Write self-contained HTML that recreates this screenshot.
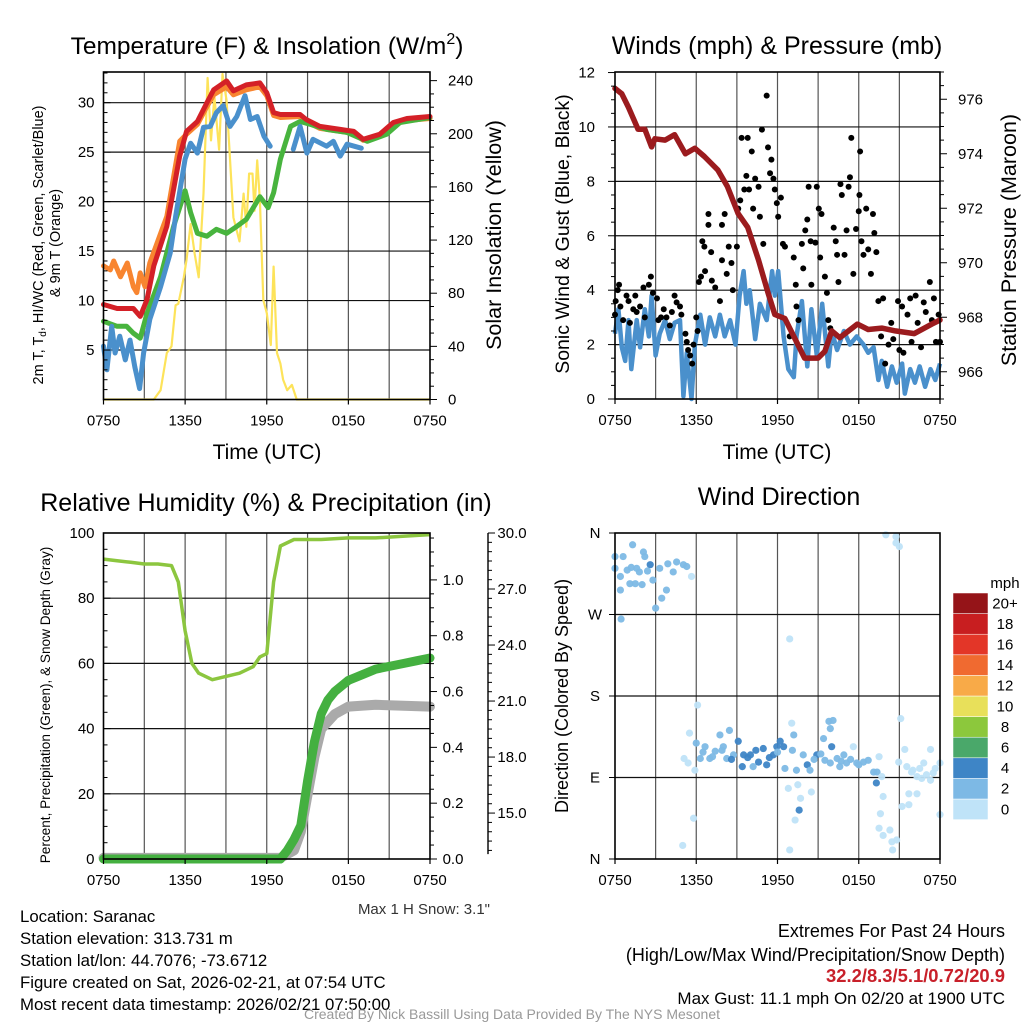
<!DOCTYPE html>
<html><head><meta charset="utf-8"><style>
html,body{margin:0;padding:0;background:#fff;}
body{width:1024px;height:1024px;overflow:hidden;font-family:"Liberation Sans",sans-serif;}
svg{display:block}
</style></head><body>
<svg id="s" width="1024" height="1024" viewBox="0 0 1024 1024" font-family="Liberation Sans, sans-serif"></svg>
<script>
// ---------- DATA ----------
const xTickLabels=["0750","1350","1950","0150","0750"];
const p1LeftTicks=[5,10,15,20,25,30];
const p1RightTicks=[0,40,80,120,160,200,240];
const p2LeftTicks=[0,2,4,6,8,10,12];
const p2RightTicks=[966,968,970,972,974,976];
const p3LeftTicks=[0,20,40,60,80,100];
const p3PrecipTicks=[0.0,0.2,0.4,0.6,0.8,1.0];
const p3SnowTicks=[15.0,18.0,21.0,24.0,27.0,30.0];
const dirLabels=["N","E","S","W","N"];
const dirTicks=[0,90,180,270,360];
const cbLabels=["0","2","4","6","8","10","12","14","16","18","20+"];
const cbColors=["#bfe3f8","#7db9e5","#3e85c6","#4aa86a","#8cc83c","#e8e05a","#f8aa48","#f06a30","#e33628","#c81e20","#951418"];

const tempT=[0,1,2.2,2.7,3.2,3.7,4.65,5.6,6.1,6.9,7.6,8.1,9.05,9.55,10.5,11.5,12,12.5,13,14.45,14.9,15.9,17.4,18.4,19.1,20.3,21.3,22.3,24];
const tempV=[9.6,9.2,9.2,8.4,10.1,13.5,17.5,24.6,27.1,28.1,30,31.3,32.2,31.2,31.8,32,31,29,28.8,28.8,28.3,27.6,27.3,27.1,26.3,26.8,28,28.4,28.6];
const t9T=[0,0.5,0.75,1.25,1.75,2.2,2.45,2.7,3.05,3.4,4.65,5.6,6.1,6.9,7.6,8.1,9.05,9.55,10.5,11.5,12,12.5,13,14.45,14.9,15.9,17.4,18.4,19.1,20.3,21.3,22.3,24];
const t9V=[13.5,13.1,14,12.4,13.8,11.4,10.8,12.8,11.4,13.8,18.5,26.1,26.8,27.8,29.6,30.8,31.6,30.8,31.3,31.6,30.7,28.7,28.5,28.6,28.1,27.4,27.1,26.9,26.2,26.6,27.8,28.2,28.4];
const dewT=[0,1,1.7,2.2,2.7,3.2,4.2,5.15,6.0,6.4,6.9,7.6,8.3,9.05,9.8,10.5,11.5,12.1,12.5,13,13.75,14.45,15.2,16.4,17.9,19.4,20.8,21.8,24];
const dewV=[7.9,7.4,7.4,6.7,6.2,8.7,12.4,17.5,21.1,18.9,16.8,16.5,17.2,16.8,17.5,18.2,20.5,19.4,20.9,24.3,27.6,28.1,27.8,27.3,27,26.1,26.8,28,28.5];
const hiT=[0,0.25,0.6,0.85,1.2,1.6,1.95,2.3,2.65,2.95,3.4,4.2,4.9,5.3,6.0,6.4,6.9,7.35,7.85,8.3,8.8,9.3,9.8,10.4,10.8,11.3,11.8,12.25,null,13.95,14.45,14.95,15.4,16.4,16.9,17.4,17.9,18.95];
const hiV=[5.4,3,7.4,4.7,6.4,4,6,3.3,1.1,4.7,8.1,11.4,14.8,18.5,24.3,25.9,24.9,27.5,27.6,29,29.7,27.6,28.6,30.7,28.3,28.6,26.6,25.6,null,25.3,27.6,24.9,26.3,25.6,26.1,24.6,25.8,25.4];
const solT=[0,3.7,4.2,4.65,5.0,5.3,5.5,5.9,6.1,6.4,6.7,7.0,7.35,7.65,7.9,8.15,8.5,8.75,9.05,9.55,10.0,10.3,10.5,10.7,10.95,11.1,11.3,11.5,11.75,12.0,12.3,12.5,12.75,13.0,13.2,13.5,13.85,14.2,24];
const solV=[0,0,7,35,40,71,72,92,105,132,110,92,155,242,195,228,188,245,225,137,119,155,130,170,170,142,180,150,75,65,41,100,35,27,15,7,11,0,0];

const presT=[0,0.5,1,1.7,2.2,2.7,2.95,3.7,4.4,5.2,5.9,6.6,7.6,8.3,9.1,9.8,10.6,11.3,11.8,12.55,13.3,14.0,15.0,15.5,16.0,16.6,17.9,18.7,19.7,20.7,22.1,23.4,24];
const presV=[976.4,976.2,975.7,974.9,974.9,974.25,974.55,974.5,974.7,974,974.2,973.9,973.4,972.8,971.8,971.3,970.1,968.9,968.1,967.95,967.2,966.5,966.5,966.75,967.5,967.25,967.75,967.55,967.6,967.5,967.4,967.75,967.9];
const windT=[0,0.25,0.5,0.75,1.0,1.2,1.6,1.85,2.2,2.5,2.7,3.0,3.3,3.7,4.05,4.4,4.8,5.05,5.3,5.65,5.9,6.3,6.65,7.0,7.4,7.75,8.1,8.5,8.9,9.2,9.5,9.7,9.95,10.35,10.7,11.2,11.6,11.8,12.05,12.45,12.8,13.2,13.4,13.8,14.2,14.5,14.9,15.3,15.75,16.0,16.4,16.9,17.35,17.85,18.35,18.7,19.1,19.45,19.7,20.1,20.45,20.8,21.2,21.4,21.8,22.15,22.5,22.9,23.3,23.65,24];
const windV=[2.4,3.3,1.9,1.4,2.9,1.1,2.9,1.9,3.3,2.3,3.8,1.6,2.4,2.9,2.2,2.8,2.9,0.1,1.7,0,2.0,3.1,2.0,3.0,2.3,3.1,2.3,2.9,2.0,3.8,4.7,3.5,4.0,2.2,3.5,2.9,4.7,3.8,4.7,2.3,1.1,0.8,2.3,3.6,1.2,3.3,1.6,3.5,1.2,2.5,1.8,2.5,2.0,2.3,2.0,1.7,1.9,0.7,1.4,0.45,1.2,0.6,1.3,0.2,1.1,0.6,1.2,0.45,1.1,0.7,1.3];
const gustT=[0,0.05,0.2,0.3,0.4,0.6,0.85,1,1.1,1.35,1.5,1.6,1.85,2.1,2.2,2.5,2.65,2.8,3.1,3.2,3.4,3.6,3.8,4.05,4.2,4.4,4.55,4.8,4.9,5.2,5.3,5.4,5.55,5.7,5.8,6.0,6.1,6.2,6.35,6.45,6.6,6.65,6.9,6.9,7.1,7.15,7.4,7.75,7.9,7.9,8.1,8.25,8.4,8.6,8.7,9.0,9.1,9.25,9.35,9.55,9.7,9.8,9.9,10.1,10.2,10.35,10.6,10.7,10.85,10.95,11.2,11.3,11.45,11.55,11.7,11.8,11.95,12.05,12.25,12.4,12.55,12.9,13.2,13.35,13.4,13.55,13.8,13.9,14.05,14.2,14.3,14.45,14.5,14.8,14.9,15.05,15.15,15.25,15.5,15.65,15.75,15.9,16.15,16.3,16.4,16.5,16.65,16.75,16.95,17.1,17.25,17.35,17.45,17.6,17.8,18,18.05,18.1,18.2,18.35,18.55,18.7,18.9,19.05,19.15,19.3,19.45,19.65,19.8,19.95,20.2,20.4,20.55,20.9,21.0,21.2,21.3,21.6,21.8,21.9,22.2,22.35,22.6,22.8,22.95,23.25,23.4,23.55,23.7,23.9,24];
const gustV=[3.1,3.6,4.0,4.2,3.4,2.9,3.8,3.6,2.8,3.3,3.8,3.2,3.4,4.1,3.0,4.2,4.5,3.9,3.7,2.9,3.0,3.3,3.0,2.7,3.2,3.8,3.55,3.4,3.1,2.4,2.1,1.8,1.6,1.3,2.0,3.0,2.5,4.3,4.5,5.8,5.6,4.7,6.8,6.4,5.4,4.35,4.1,3.6,5.1,6.4,6.8,4.6,5.6,5.0,4.0,5.6,7.0,7.3,9.6,7.7,8.2,9.6,7.7,9.1,7.0,8.1,7.8,6.7,9.9,5.7,11.15,9.25,8.3,8.8,8.1,7.7,7.2,6.7,7.4,5.7,5.6,2.3,5.2,4.2,3.4,2.9,5.7,4.8,6.2,6.6,7.8,5.8,4.2,5.75,7.8,7.0,5.2,6.8,4.5,3.9,2.9,2.6,6.3,5.8,5.3,4.3,7.9,7.5,5.3,6.2,7.8,8.15,9.6,4.6,6.25,6.9,7.5,9.1,5.8,5.3,7.0,5.5,4.6,6.8,6.1,5.4,3.6,2.3,3.7,1.3,2.0,2.8,2.2,3.6,1.8,3.4,1.7,3.1,3.7,2.1,3.8,2.8,1.9,3.55,3.2,4.3,2.9,3.7,2.1,3.1,2.1];

const rhT=[0,1,2,3,4,5,5.5,6,6.5,7,8,9,10,11,11.5,12,12.5,13,14,16,18,20,22,24];
const rhV=[92,91.5,91,90.5,90.5,90,85,70,60,57,55,56,57,59,62,63,85,96,98,98,98.5,98.5,99,99.5];
const prT=[0,13,13.5,14,14.5,15,15.5,16,16.5,17,18,19,20,21,22,23,24];
const prV=[0,0,0.03,0.07,0.12,0.28,0.42,0.52,0.57,0.6,0.64,0.66,0.68,0.69,0.7,0.71,0.72];
const snT=[0,13,14,14.5,15,15.5,16,17,18,20,24];
const snV=[12.6,12.6,13,14,16,18,19.5,20.3,20.7,20.8,20.7];

// wind direction points: time (h), direction (deg), speed (mph)
const wdT=[0,0.6,1.3,2.1,2.2,0,0.4,0.9,1.1,1.5,1.8,2.0,2.6,2.8,3.3,3.8,3.45,3.0,0.4,0.45,3.9,4.3,4.55,5.05,5.3,5.65,1.6,1.2,2.4,
6.1,5.5,5.1,5.4,5.9,6.0,6.3,6.65,7.0,7.4,7.75,8.0,8.45,8.25,8.75,9.1,9.5,9.4,10.0,10.2,10.6,10.95,11.2,11.7,11.95,12.2,12.45,12.55,13.1,13.05,13.2,13.4,13.9,14.2,14.4,14.9,15.4,15.8,16.1,15.9,16.0,15.5,15.9,16.4,16.6,16.9,17.1,17.6,17.85,18.35,18.7,19.1,19.35,19.5,19.7,19.3,6.5,7.2,7.9,8.6,9.8,10.4,11.4,12.0,14.7,15.2,16.7,17.4,18.0,
12.9,12.8,13.5,13.7,13.6,13.3,12.9,14.5,5.8,5.0,19.8,19.6,19.5,19.8,20.3,20.45,20.5,20.8,21.1,21.4,20.95,21.55,21.9,22.3,22.8,23.3,23.65,24,22.65,23.0,23.3,21.7,22.3,21.2,21.7,24,20.0,20.75,20.75,21.0,22.0,22.5,23.5];
const wdV=[334,334,347,339,334,321,312,319,304,304,317,303,325,308,321,297,288,277,297,265,326,317,328,325,323,312,321,322,318,
170,139,111,106,98,128,111,124,111,119,137,124,142,111,115,130,115,102,115,102,107,122,104,115,124,130,124,100,120,150,137,98,115,104,98,115,133,152,153,144,124,109,106,111,102,115,106,124,106,107,109,96,96,113,91,84,118,113,120,110,112,120,112,118,110,116,108,110,104,
243,78,82,67,54,43,10,74,45,15,69,50,34,26,32,19,10,21,155,121,107,102,96,91,106,121,100,106,89,93,87,72,72,58,60,49,358,356,349,345,98,100,95];
const wdS=[2.5,2.5,2.5,2.5,2.5,2.5,2.5,2.5,2.5,2.5,2.5,2.5,4.2,2.5,2.5,2.5,2.5,2.5,2.5,2.5,2.5,2.5,2.5,2.5,2.5,0.5,2.5,2.5,2.5,
0.5,0.5,0.5,0.5,0.5,2.5,2.5,2.5,2.5,2.5,2.5,2.5,2.5,2.5,2.5,4.5,4.5,4.5,4.5,2.5,4.5,4.5,4.5,4.5,4.5,4.5,4.5,2.5,2.5,0.5,2.5,2.5,2.5,4.5,2.5,4.5,2.5,2.5,2.5,2.5,4.5,2.5,2.5,2.5,2.5,2.5,2.5,0.5,2.5,2.5,2.5,2.5,2.5,0.5,0.5,4.5,2.5,2.5,2.5,4.5,4.5,4.5,4.5,2.5,2.5,2.5,2.5,2.5,2.5,
0.5,0.5,0.5,0.5,4.5,0.5,0.5,0.5,0.5,0.5,0.5,0.5,0.5,0.5,0.5,0.5,0.5,0.5,0.5,0.5,0.5,0.5,0.5,0.5,0.5,0.5,0.5,0.5,0.5,0.5,0.5,0.5,0.5,0.5,0.5,0.5,0.5,0.5,0.5,0.5,0.5,0.5,0.5];

// ---------- HELPERS ----------
const NS="http://www.w3.org/2000/svg";
const svg=document.getElementById('s');
function mk(tag,attrs,parent){const e=document.createElementNS(NS,tag);for(const k in attrs)e.setAttribute(k,attrs[k]);(parent||svg).appendChild(e);return e;}
function txt(x,y,s,size,anchor,parent,extra){const e=mk('text',Object.assign({x:x,y:y,'font-size':size,'text-anchor':anchor||'middle',fill:'#000'},extra||{}),parent);e.textContent=s;return e;}
function lin(d0,d1,r0,r1){return v=>r0+(v-d0)/(d1-d0)*(r1-r0);}
function pathFrom(T,V,xs,ys){let d='',pen=false;for(let i=0;i<T.length;i++){if(T[i]===null||V[i]===null){pen=false;continue;}d+=(pen?'L':'M')+xs(T[i]).toFixed(1)+' '+ys(V[i]).toFixed(1);pen=true;}return d;}
function grid(g,L,R,Tp,B,xs,hy){for(let h=3;h<24;h+=3){const l=mk('line',{x1:xs(h),x2:xs(h),y1:Tp,y2:B,stroke:'#555','stroke-width':1.2},g);}
 hy.forEach(y=>{const l=mk('line',{x1:L,x2:R,y1:y,y2:y,stroke:'#111','stroke-width':1.2},g);});}
function frame(g,L,R,Tp,B){const r=mk('rect',{x:L,y:Tp,width:R-L,height:B-Tp,fill:'none',stroke:'#000','stroke-width':1.6},g);}
function xticks(g,xs,B){for(let i=0;i<5;i++){const h=i*6;mk('line',{x1:xs(h),x2:xs(h),y1:B,y2:B+5,stroke:'#000','stroke-width':1.2},g);const t=txt(xs(h),B+26,xTickLabels[i],15,'middle',g);}}

// ---------- PANEL 1 ----------
(function(){
const L=103.5,R=430,Tp=72,B=399.5;
const xs=lin(0,24,L,R), yl=lin(0,33.1,B,Tp), yr=lin(0,246.5,B,Tp);
const g=mk('g',{});  
grid(g,L,R,Tp,B,xs,p1LeftTicks.map(yl));
const ys=mk('path',{d:pathFrom(solT,solV,xs,yr),fill:'none',stroke:'#fde35a','stroke-width':2.2,'stroke-linejoin':'round'},g);

const a=mk('path',{d:pathFrom(t9T,t9V,xs,yl),fill:'none',stroke:'#f88530','stroke-width':5,'stroke-linejoin':'round','stroke-linecap':'round'},g);

const b=mk('path',{d:pathFrom(dewT,dewV,xs,yl),fill:'none',stroke:'#48b43e','stroke-width':5,'stroke-linejoin':'round','stroke-linecap':'round'},g);

const c=mk('path',{d:pathFrom(hiT,hiV,xs,yl),fill:'none',stroke:'#4a90cc','stroke-width':5,'stroke-linejoin':'round','stroke-linecap':'round'},g);

const d=mk('path',{d:pathFrom(tempT,tempV,xs,yl),fill:'none',stroke:'#d42027','stroke-width':5,'stroke-linejoin':'round','stroke-linecap':'round'},g);

frame(g,L,R,Tp,B);
for(let v=1;v<34;v++){mk('line',{x1:L,x2:L+(v%5?4:7),y1:yl(v),y2:yl(v),stroke:'#000'},g);}
p1LeftTicks.forEach(v=>{const t=txt(L-9,yl(v)+5,String(v),15,'end',g);});
for(let v=0;v<=246;v+=10){mk('line',{x1:R,x2:R+(v%40?4:7),y1:yr(v),y2:yr(v),stroke:'#000'},g);}
p1RightTicks.forEach(v=>{const t=txt(R+18,yr(v)+5,String(v),15,'start',g);});
xticks(g,xs,B);
const ti=txt(267,54,'',24.5,'middle',g);ti.innerHTML='Temperature (F) &amp; Insolation (W/m<tspan dy="-10" font-size="16">2</tspan><tspan dy="10">)</tspan>';

const xt=txt(267,459,'Time (UTC)',21,'middle',g);
const yt=mk('text',{transform:'translate(43,245) rotate(-90)','font-size':14.5,'text-anchor':'middle'},g);
yt.innerHTML='2m T, T<tspan dy="3" font-size="10">d</tspan><tspan dy="-3">, HI/WC (Red, Green, Scarlet/Blue)</tspan>';

const yt2=txt(0,0,'& 9m T (Orange)',14.5,'middle',g,{transform:'translate(60,243) rotate(-90)'});

const rt=txt(0,0,'Solar Insolation (Yellow)',21.5,'middle',g,{transform:'translate(501,235) rotate(-90)'});

})();

// ---------- PANEL 2 ----------
(function(){
const L=615,R=940,Tp=72,B=399;
const xs=lin(0,24,L,R), yl=lin(0,12.02,B,Tp), yr=lin(965,977,B,Tp);
const g=mk('g',{});  
grid(g,L,R,Tp,B,xs,[2,4,6,8,10].map(yl));
const w=mk('path',{d:pathFrom(windT,windV,xs,yl),fill:'none',stroke:'#4a90cc','stroke-width':4.5,'stroke-linejoin':'round'},g);

for(let i=0;i<gustT.length;i++){const c=mk('circle',{cx:xs(gustT[i]),cy:yl(gustV[i]),r:3,fill:'#000'},g);
}
const p=mk('path',{d:pathFrom(presT,presV,xs,yr),fill:'none',stroke:'#9b1b1e','stroke-width':5.5,'stroke-linejoin':'round','stroke-linecap':'round'},g);

frame(g,L,R,Tp,B);
for(let v=0;v<=12;v+=0.5){mk('line',{x1:L,x2:L-(v%2?4:7),y1:yl(v),y2:yl(v),stroke:'#000'},g);}
p2LeftTicks.forEach(v=>{const t=txt(L-20,yl(v)+5,String(v),15,'end',g);});
for(let v=965;v<=977;v+=0.5){mk('line',{x1:R,x2:R+(v%2?4:7),y1:yr(v),y2:yr(v),stroke:'#000'},g);}
p2RightTicks.forEach(v=>{const t=txt(R+18,yr(v)+5,String(v),15,'start',g);});
xticks(g,xs,B);
const ti=txt(777,54,'Winds (mph) & Pressure (mb)',25,'middle',g);
const xt=txt(777,459,'Time (UTC)',21,'middle',g);
const yt=txt(0,0,'Sonic Wind & Gust (Blue, Black)',19.5,'middle',g,{transform:'translate(569,234) rotate(-90)'});
const rt=txt(0,0,'Station Pressure (Maroon)',21.5,'middle',g,{transform:'translate(1016,240) rotate(-90)'});
})();

// ---------- PANEL 3 ----------
(function(){
const L=103.5,R=430,Tp=533,B=859;
const xs=lin(0,24,L,R), yl=lin(0,100,B,Tp), yp=lin(0,1.168,B,Tp), ysn=lin(12.54,30,B,Tp);
const g=mk('g',{});  
grid(g,L,R,Tp,B,xs,[20,40,60,80].map(yl));
const s=mk('path',{d:pathFrom(snT,snV,xs,ysn),fill:'none',stroke:'#aaaaaa','stroke-width':10,'stroke-linejoin':'round','stroke-linecap':'round'},g);

const p=mk('path',{d:pathFrom(prT,prV,xs,yp),fill:'none',stroke:'#44b040','stroke-width':9,'stroke-linejoin':'round','stroke-linecap':'round'},g);

const r=mk('path',{d:pathFrom(rhT,rhV,xs,yl),fill:'none',stroke:'#8cc63f','stroke-width':3.5,'stroke-linejoin':'round'},g);

frame(g,L,R,Tp,B);
for(let v=0;v<=100;v+=5){mk('line',{x1:L,x2:L+(v%20?4:7),y1:yl(v),y2:yl(v),stroke:'#000'},g);}
p3LeftTicks.forEach(v=>{const t=txt(L-9,yl(v)+5,String(v),15,'end',g);});
for(let v=0;v<=1.16;v+=0.05){mk('line',{x1:R,x2:R+(Math.round(v*100)%20?4:7),y1:yp(v),y2:yp(v),stroke:'#000'},g);}
p3PrecipTicks.forEach(v=>{const t=txt(R+23,yp(v)+5,v.toFixed(1),15,'middle',g);});
mk('line',{x1:488,x2:488,y1:ysn(12.8),y2:Tp,stroke:'#000','stroke-width':1.4},g);
for(let v=13;v<=30;v+=0.5){mk('line',{x1:488,x2:488+(v%3?4:7),y1:ysn(v),y2:ysn(v),stroke:'#000'},g);}
p3SnowTicks.forEach(v=>{const t=txt(512,ysn(v)+5,v.toFixed(1),15,'middle',g);});
xticks(g,xs,B);
const ti=txt(266,511,'Relative Humidity (%) & Precipitation (in)',25,'middle',g);
const yt=txt(0,0,'Percent, Precipitation (Green), & Snow Depth (Gray)',13.6,'middle',g,{transform:'translate(50,705) rotate(-90)'});
const mx=txt(490,914,'Max 1 H Snow: 3.1"',15,'end',g,{fill:'#333'});
})();

// ---------- PANEL 4 ----------
(function(){
const L=615,R=940,Tp=533,B=859;
const xs=lin(0,24,L,R), yd=lin(0,360,B,Tp);
const g=mk('g',{});  
grid(g,L,R,Tp,B,xs,[90,180,270].map(yd));
const n=Math.min(wdT.length,wdV.length,wdS.length);
for(let i=0;i<n;i++){const k=Math.max(0,Math.min(10,Math.floor(wdS[i]/2)));
const c=mk('circle',{cx:xs(wdT[i]),cy:yd(wdV[i]),r:3.6,fill:cbColors[k],'fill-opacity':0.95},g);
}
frame(g,L,R,Tp,B);
dirTicks.forEach((v,i)=>{mk('line',{x1:L,x2:L-6,y1:yd(v),y2:yd(v),stroke:'#000'},g);const t=txt(L-20,yd(v)+5,dirLabels[i],15,'middle',g);});
xticks(g,xs,B);
const ti=txt(779,505,'Wind Direction',25,'middle',g);
const yt=txt(0,0,'Direction (Colored By Speed)',18,'middle',g,{transform:'translate(568,696) rotate(-90)'});
const cb=mk('g',{},g);
const top=593,h=20.6;
for(let i=0;i<11;i++){const y=top+(10-i)*h;const r=mk('rect',{x:953,y:y,width:35,height:h,fill:cbColors[i],stroke:'#fff','stroke-width':0.5},cb);

const t=txt(1005,y+h/2+5,cbLabels[i],15,'middle',cb);}
const u=txt(1005,588,'mph',15,'middle',cb);
})();

// ---------- TEXT BLOCKS ----------
(function(){
const g=mk('g',{});
const lines=["Location: Saranac","Station elevation: 313.731 m","Station lat/lon: 44.7076; -73.6712","Figure created on Sat, 2026-02-21, at 07:54 UTC","Most recent data timestamp: 2026/02/21 07:50:00"];
lines.forEach((s,i)=>{const t=txt(20,922+i*22,s,16.8,'start',g);});
const g2=mk('g',{});
let t=txt(1005,937,'Extremes For Past 24 Hours',18,'end',g2);
t=txt(1005,961,'(High/Low/Max Wind/Precipitation/Snow Depth)',18,'end',g2);
t=txt(1005,982,'32.2/8.3/5.1/0.72/20.9',18.4,'end',g2,{fill:'#c8202a','font-weight':'bold'});
t=txt(1005,1004,'Max Gust: 11.1 mph On 02/20 at 1900 UTC',17,'end',g2);
t=txt(512,1019,'Created By Nick Bassill Using Data Provided By The NYS Mesonet',14,'middle',null,{fill:'#999'});
})();
</script>
</body></html>
